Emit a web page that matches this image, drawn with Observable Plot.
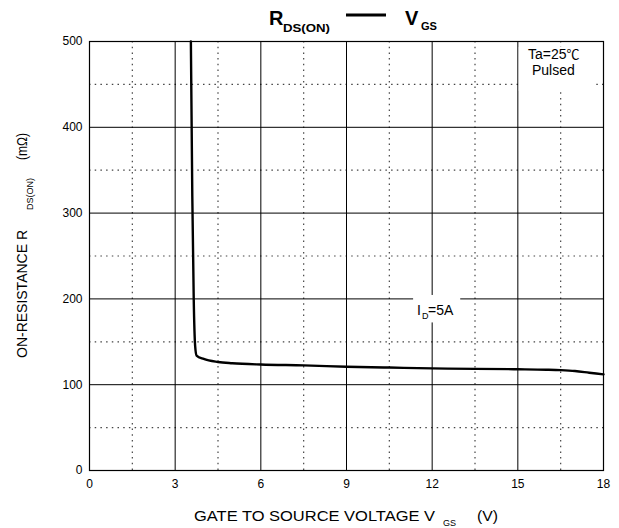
<!DOCTYPE html>
<html><head><meta charset="utf-8">
<script src="https://cdn.jsdelivr.net/npm/d3@7"></script>
<script src="https://cdn.jsdelivr.net/npm/@observablehq/plot@0.6"></script>
<style>body{margin:0;background:#fff;} svg{display:block;}</style>
</head><body><div id="chart"></div>
<script>
// Curve data: gate-source voltage (V) vs on-resistance (mΩ)
const vgs = [3.55, 3.6, 3.65, 3.7, 3.75, 4.0, 4.5, 5.0, 6.0, 7.5, 9.0, 10.5, 12.0, 13.5, 15.0, 16.0, 16.5, 17.0, 17.5, 18.0];
const rds = [500, 320, 200, 145, 134, 130, 126.5, 125, 123.5, 122.5, 121, 120, 119, 118.5, 118, 117.5, 117, 116, 114, 112];
const xTicks = [0, 3, 6, 9, 12, 15, 18];
const yTicks = [0, 100, 200, 300, 400, 500];
const xMajorGrid = [3, 6, 9, 12, 15];
const xMinorGrid = [1.5, 4.5, 7.5, 10.5, 13.5, 16.5];
const yMajorGrid = [100, 200, 300, 400];
const yMinorGrid = [50, 150, 250, 350, 450];

const data = vgs.map((v, i) => ({v, r: rds[i]}));
const font = "'Liberation Sans', Arial, sans-serif";

const svg = Plot.plot({
  width: 619, height: 528,
  marginLeft: 89, marginRight: 16, marginTop: 41, marginBottom: 58,
  style: {fontFamily: font, fontSize: "12px", color: "#000", background: "#fff"},
  x: {domain: [0, 18], ticks: xTicks, tickSize: 0, tickPadding: 9, label: null},
  y: {domain: [0, 500], ticks: yTicks, tickSize: 0, tickPadding: 7, label: null},
  marks: [
    Plot.ruleX(xMinorGrid, {stroke: "#444", strokeWidth: 1.2, strokeDasharray: "1.5,4.2"}),
    Plot.ruleY(yMinorGrid, {stroke: "#444", strokeWidth: 1.2, strokeDasharray: "1.5,4.2"}),
    Plot.ruleX(xMajorGrid, {stroke: "#000", strokeWidth: 1}),
    Plot.ruleY(yMajorGrid, {stroke: "#000", strokeWidth: 1}),
    Plot.rect([{}], {x1: 11.35, x2: 13.0, y1: 172, y2: 204, fill: "#fff"}),
    Plot.rect([{}], {x1: 15.05, x2: 17.75, y1: 442, y2: 493, fill: "#fff"}),
    Plot.line(data, {x: "v", y: "r", stroke: "#000", strokeWidth: 2.4, curve: "monotone-x"}),
    Plot.frame({stroke: "#000", strokeWidth: 1.2})
  ]
});
document.getElementById("chart").appendChild(svg);

const s = d3.select(svg);
function txt() {
  return s.append("text").attr("font-family", font).attr("fill", "#000").attr("text-anchor", "start");
}
// Title
txt().attr("font-weight", "bold").attr("x", 269).attr("y", 25).attr("font-size", 20).text("R");
txt().attr("font-weight", "bold").attr("x", 283).attr("y", 32).attr("font-size", 11)
  .attr("textLength", 47).attr("lengthAdjust", "spacingAndGlyphs").text("DS(ON)");
s.append("line").attr("x1", 346).attr("x2", 386).attr("y1", 15).attr("y2", 15).attr("stroke", "#000").attr("stroke-width", 3);
txt().attr("font-weight", "bold").attr("x", 405).attr("y", 25).attr("font-size", 20).text("V");
txt().attr("font-weight", "bold").attr("x", 421).attr("y", 30).attr("font-size", 10)
  .attr("textLength", 16).attr("lengthAdjust", "spacingAndGlyphs").text("GS");

// X label
txt().attr("font-size", 15).attr("x", 194).attr("y", 521)
  .attr("textLength", 241).attr("lengthAdjust", "spacingAndGlyphs").text("GATE TO SOURCE VOLTAGE V");
txt().attr("font-size", 9).attr("x", 443).attr("y", 526).text("GS");
txt().attr("font-size", 15).attr("x", 477).attr("y", 521)
  .attr("textLength", 21).attr("lengthAdjust", "spacingAndGlyphs").text("(V)");

// Y label (rotated)
function ytxt(yBottom, xBase, size, len, str) {
  txt().attr("font-size", size).attr("transform", `translate(${xBase},${yBottom}) rotate(-90)`)
    .attr("textLength", len).attr("lengthAdjust", "spacingAndGlyphs").text(str);
}
ytxt(358, 27, 14.5, 128, "ON-RESISTANCE R");
ytxt(210, 33, 8.5, 32, "DS(ON)");
ytxt(160, 27, 14, 27, "(mΩ)");

// I_D label
txt().attr("font-size", 14).attr("x", 417).attr("y", 315).text("I");
txt().attr("font-size", 9).attr("x", 422).attr("y", 319).text("D");
txt().attr("font-size", 14).attr("x", 428).attr("y", 315).text("=5A");

// Condition notes
const ta = txt().attr("font-size", 14).attr("x", 528).attr("y", 59);
ta.append("tspan").text("Ta=25");
ta.append("tspan").attr("font-family", "'Noto Sans CJK SC', sans-serif").attr("font-size", 13).text("℃");
txt().attr("font-size", 14).attr("x", 532).attr("y", 75).text("Pulsed");
</script></body></html>
